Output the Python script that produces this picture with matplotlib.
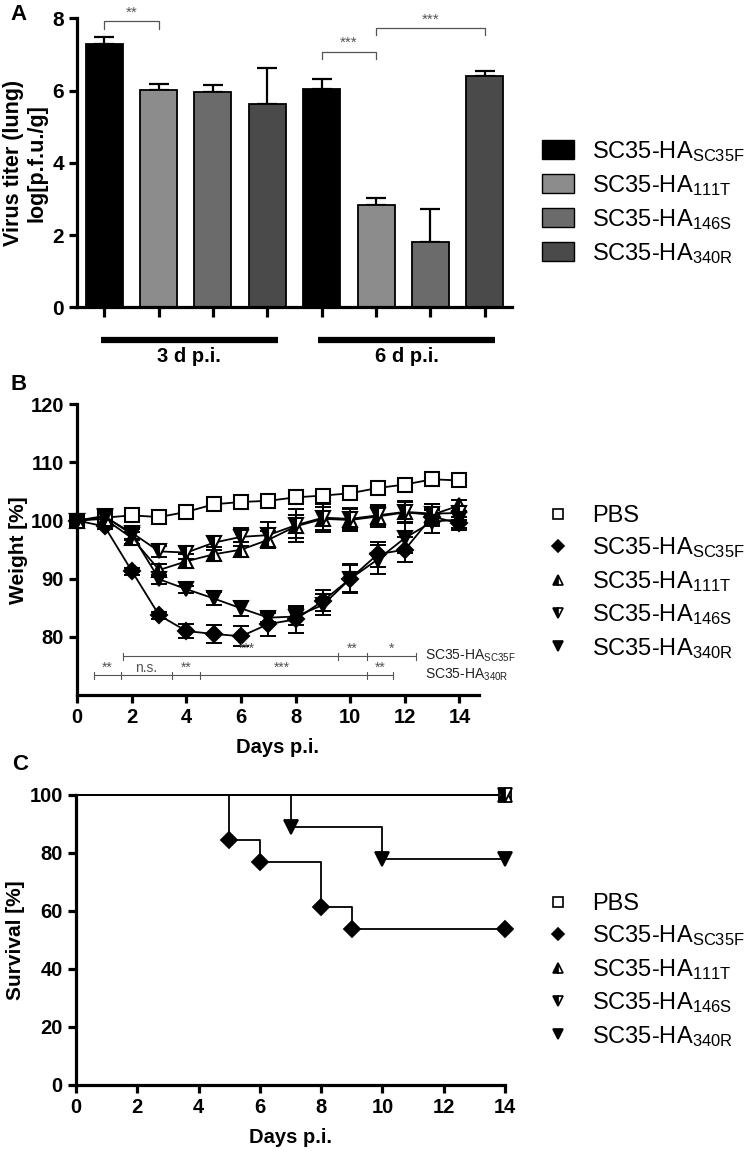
import matplotlib
matplotlib.use("Agg")
import matplotlib.pyplot as plt
import matplotlib.transforms as mtransforms
from matplotlib.patches import Patch
from matplotlib.lines import Line2D
import numpy as np

plt.rcParams['font.family'] = ['Liberation Sans', 'DejaVu Sans']
plt.rcParams['mathtext.fontset'] = 'custom'
plt.rcParams['mathtext.rm'] = 'Liberation Sans'
plt.rcParams['mathtext.it'] = 'Liberation Sans'
plt.rcParams['mathtext.bf'] = 'Liberation Sans:bold'

# ---------------- data ----------------
groups = ["SC35-HA$_{SC35F}$", "SC35-HA$_{111T}$", "SC35-HA$_{146S}$", "SC35-HA$_{340R}$"]
bar_colors = ["#000000", "#8c8c8c", "#6b6b6b", "#4a4a4a"]
timepoints = ["3 d p.i.", "6 d p.i."]
titer_3d = [7.30, 6.02, 5.95, 5.63]
titer_3d_err = [0.18, 0.16, 0.20, 1.00]
titer_6d = [6.05, 2.83, 1.80, 6.40]
titer_6d_err = [0.26, 0.20, 0.92, 0.14]

days = list(range(15))
w_pbs = [100, 100.5, 100.9, 100.6, 101.5, 102.8, 103.2, 103.4, 104.0, 104.3, 104.7, 105.6, 106.2, 107.1, 106.9]
w_sc35f = [100, 99.0, 91.3, 83.7, 81.0, 80.5, 80.1, 82.2, 83.0, 86.2, 90.0, 94.2, 95.0, 100.7, 99.5]
w_sc35f_err = [0, 0.5, 0.6, 0.6, 1.2, 1.6, 1.7, 2.0, 2.3, 1.8, 2.3, 2.2, 2.1, 1.5, 1.2]
w_111t = [100, 100.3, 97.0, 91.5, 93.0, 94.2, 95.0, 96.7, 99.0, 100.3, 100.1, 100.7, 101.4, 101.0, 102.6]
w_111t_err = [0, 0.5, 1.0, 1.0, 1.2, 1.2, 1.3, 1.5, 2.0, 2.0, 1.9, 1.8, 1.8, 1.9, 1.0]
w_146s = [100, 100.6, 97.9, 94.7, 94.5, 96.2, 97.2, 97.5, 99.2, 100.5, 100.3, 100.9, 101.5, 101.2, 101.3]
w_146s_err = [0, 0.5, 1.0, 1.0, 1.1, 1.2, 1.5, 2.3, 2.8, 2.4, 1.8, 1.7, 1.8, 1.7, 1.2]
w_340r = [100, 100.8, 97.6, 89.9, 88.2, 86.6, 84.9, 83.3, 83.5, 85.5, 90.0, 93.3, 97.0, 99.8, 100.2]
w_340r_err = [0, 0.5, 0.9, 0.8, 0.6, 1.2, 1.3, 0.8, 1.5, 1.8, 2.5, 2.5, 2.6, 2.0, 1.5]

# survival (Kaplan-Meier steps)
s_pbs_t = [0, 14]; s_pbs = [100, 100]
s_sc35f_t = [0, 5, 6, 8, 9, 14]; s_sc35f = [100, 84.6, 76.9, 61.5, 53.8, 53.8]
s_111t_t = [0, 14]; s_111t = [100, 100]
s_146s_t = [0, 14]; s_146s = [100, 100]
s_340r_t = [0, 7, 10, 14]; s_340r = [100, 88.9, 77.8, 77.8]

W, H = 750, 1151
fig = plt.figure(figsize=(W / 100, H / 100), dpi=100)

def fax(l, t, r, b):
    return fig.add_axes([l / W, 1 - b / H, (r - l) / W, (b - t) / H])

def fpt(xp, yp):
    return (xp / W, 1 - yp / H)

SPW = 2.3
TICKFS_A = 15
TICKFS = 14.5
LABFS = 14.5
LEGFS = 17

def style_axes(ax, fs):
    for s in ['top', 'right']:
        ax.spines[s].set_visible(False)
    for s in ['left', 'bottom']:
        ax.spines[s].set_linewidth(SPW)
    ax.tick_params(width=SPW, length=6, labelsize=fs, direction='out')
    for lab in ax.get_xticklabels() + ax.get_yticklabels():
        lab.set_fontweight('bold')

# ---------------- Panel A ----------------
axA = fax(77, 18.3, 512, 307.3)
vals = titer_3d + titer_6d
errs = titer_3d_err + titer_6d_err
cols = bar_colors + bar_colors
x = np.arange(len(vals))
axA.bar(x, vals, width=0.68, color=cols, edgecolor='black', linewidth=1.3, zorder=2)
axA.errorbar(x, vals, yerr=[np.zeros(len(errs)), errs], fmt='none', ecolor='black',
             elinewidth=1.6, capsize=7, capthick=1.6, zorder=1)
axA.set_xlim(-0.5, 7.5)
axA.set_ylim(0, 8)
axA.set_yticks([0, 2, 4, 6, 8])
axA.set_xticks(x)
axA.set_xticklabels([])
style_axes(axA, TICKFS_A)
axA.tick_params(axis='x', length=7)
fig.text(*fpt(25, 163), "Virus titer (lung)\nlog[p.f.u./g]", rotation=90, ha='center',
         va='center', fontsize=15.5, fontweight='bold', linespacing=1.15, multialignment='center')

# significance brackets
def bracket(ax, x1, x2, ytop, drop, label, fs=11):
    ax.plot([x1, x1, x2, x2], [ytop - drop, ytop, ytop, ytop - drop], color='#555555', lw=0.9,
            clip_on=False)
    ax.text((x1 + x2) / 2, ytop + 0.04, label, ha='center', va='bottom', fontsize=fs,
            color='#555555', clip_on=False)

bracket(axA, 0, 1, 7.93, 0.22, "**")
bracket(axA, 4, 5, 7.08, 0.2, "***")
bracket(axA, 5, 7, 7.73, 0.2, "***")

trA = mtransforms.blended_transform_factory(axA.transData, axA.transAxes)
for (x1, x2), lab in zip([(-0.055, 3.19), (3.94, 7.19)], timepoints):
    axA.plot([x1, x2], [-0.113, -0.113], color='black', lw=4.5, transform=trA, clip_on=False,
             solid_capstyle='butt')
    axA.text((x1 + x2) / 2, -0.17, lab, transform=trA, ha='center', va='center',
             fontsize=14.5, fontweight='bold')

handlesA = [Patch(facecolor=c, edgecolor='black', linewidth=1.0) for c in bar_colors]
fig.legend(handlesA, groups, loc='upper left', bbox_to_anchor=fpt(542, 139),
           frameon=False, fontsize=LEGFS, handlelength=1.36, handleheight=0.85,
           handletextpad=0.76, labelspacing=0.38, borderaxespad=0, borderpad=0)

fig.text(*fpt(10, 15), "A", fontsize=16, fontweight='bold', va='center')

# ---------------- Panel B ----------------
axB = fax(77.3, 404.3, 478.6, 695)
series_w = [
    (w_pbs, None, dict(marker='s', mfc='white', mec='black', fillstyle='full', ms=9.5)),
    (w_sc35f, w_sc35f_err, dict(marker='D', mfc='black', mec='black', ms=8.5)),
    (w_111t, w_111t_err, dict(marker='^', mfc='black', mfcalt='white', mec='black', fillstyle='left', ms=10)),
    (w_146s, w_146s_err, dict(marker='v', mfc='black', mfcalt='white', mec='black', fillstyle='left', ms=10)),
    (w_340r, w_340r_err, dict(marker='v', mfc='black', mec='black', ms=10)),
]
for vals_, err_, st in series_w:
    if err_ is not None:
        axB.errorbar(days, vals_, yerr=err_, fmt='none', ecolor='black', elinewidth=1.4,
                     capsize=6, capthick=1.4, zorder=2)
    axB.plot(days, vals_, color='black', lw=1.3, mew=1.5, zorder=3, clip_on=False, **st)
axB.set_xlim(0, 14.7)
axB.set_ylim(70, 120)
axB.set_yticks([80, 90, 100, 110, 120])
axB.set_xticks(range(0, 15, 2))
style_axes(axB, TICKFS)
axB.set_xlabel("Days p.i.", fontsize=LABFS, fontweight='bold', labelpad=8)
fig.text(*fpt(19, 550), "Weight [%]", rotation=90, ha='center', va='center',
         fontsize=15, fontweight='bold')

# significance annotation rows
def sigrow(ax, y, edges, labels, label_x, name):
    ax.plot([edges[0], edges[-1]], [y, y], color='#555555', lw=0.8, clip_on=False)
    for e in edges:
        ax.plot([e, e], [y - 0.6, y + 0.6], color='#555555', lw=0.8, clip_on=False)
    for lx, lab in zip(label_x, labels):
        ax.text(lx, y + 0.05, lab, ha='center', va='bottom', fontsize=10,
                color='#555555', clip_on=False, zorder=6)
    ax.text(12.75, y, name, ha='left', va='center', fontsize=10, color='#222222', clip_on=False)

sigrow(axB, 76.7, [1.67, 9.55, 10.6, 12.4], ["***", "**", "*"], [6.2, 10.07, 11.5],
       "SC35-HA$_{SC35F}$")
sigrow(axB, 73.4, [0.61, 1.6, 3.47, 4.5, 10.6, 11.56], ["**", "n.s.", "**", "***", "**"],
       [1.1, 2.53, 3.98, 7.5, 11.08], "SC35-HA$_{340R}$")

legend_names = ["PBS"] + groups
handlesB = [Line2D([], [], linestyle='none', color='black', mew=1.2, **dict(st, ms=st['ms'] * 0.72))
            for _, _, st in series_w]
fig.legend(handlesB, legend_names, loc='upper left', bbox_to_anchor=fpt(547, 505),
           frameon=False, fontsize=LEGFS, handlelength=0.9, handletextpad=1.0,
           labelspacing=0.36, borderaxespad=0, borderpad=0)
fig.text(*fpt(10, 385), "B", fontsize=16, fontweight='bold', va='center')

# ---------------- Panel C ----------------
axC = fax(76, 795, 505, 1085)
series_s = [
    (s_pbs_t, s_pbs, series_w[0][2]),
    (s_sc35f_t, s_sc35f, series_w[1][2]),
    (s_111t_t, s_111t, series_w[2][2]),
    (s_146s_t, s_146s, series_w[3][2]),
    (s_340r_t, s_340r, series_w[4][2]),
]
for t_, s_, st in series_s:
    axC.step(t_, s_, where='post', color='black', lw=1.3, zorder=2, clip_on=False)
    axC.plot(t_[1:], s_[1:], linestyle='none', mew=1.3, zorder=3, clip_on=False,
             **dict(st, ms=st['ms'] * 0.95))
axC.set_xlim(0, 14)
axC.set_ylim(0, 100)
axC.set_yticks(range(0, 101, 20))
axC.set_xticks(range(0, 15, 2))
style_axes(axC, TICKFS)
axC.set_xlabel("Days p.i.", fontsize=LABFS, fontweight='bold', labelpad=8)
fig.text(*fpt(16, 940), "Survival [%]", rotation=90, ha='center', va='center',
         fontsize=15, fontweight='bold')
fig.legend(handlesB, legend_names, loc='upper left', bbox_to_anchor=fpt(547, 893),
           frameon=False, fontsize=LEGFS, handlelength=0.9, handletextpad=1.0,
           labelspacing=0.36, borderaxespad=0, borderpad=0)
fig.text(*fpt(12, 765), "C", fontsize=16, fontweight='bold', va='center')

fig.savefig("out.png", dpi=100)
